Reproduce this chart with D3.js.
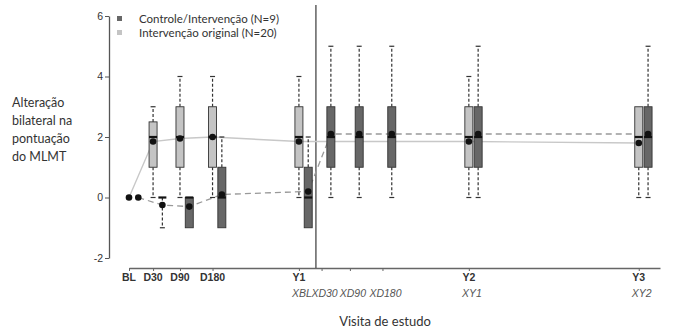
<!DOCTYPE html>
<html><head><meta charset="utf-8">
<script src="https://cdn.jsdelivr.net/npm/d3@7"></script>
<style>body{margin:0;background:#fff}</style>
</head><body>
<svg id="chart" width="690" height="335"></svg>
<script>
// Study visits and their position on the timeline (months)
const visits     = ["BL","D30","D90","D180","Y1","XD30","XD90","XD180","Y2","Y3"];
const visitMonth = [0, 1.7, 3.6, 5.9, 12, 13.6, 15.6, 17.9, 24, 36];
const tickTop    = ["BL","D30","D90","D180","Y1","","","","Y2","Y3"];
const tickBottom = ["","","","","XBL","XD30","XD90","XD180","XY1","XY2"];
const yTicks     = [-2, 0, 2, 4, 6];
const crossoverMonth = 13.2;

// Intervenção original (N=20)
const origLow  = [null, 0,   0,    0,   0,    null, null, null, 0,    0];
const origQ1   = [null, 1,   1,    1,   1,    null, null, null, 1,    1];
const origMed  = [null, 2,   2,    2,   2,    null, null, null, 2,    2];
const origQ3   = [null, 2.5, 3,    3,   3,    null, null, null, 3,    3];
const origHigh = [null, 3,   4,    4,   4,    null, null, null, 4,    3];
const origMean = [0,    1.85,1.95, 2.0, 1.85, null, null, null, 1.85, 1.8];

// Controle/Intervenção (N=9)
const ctrlLow  = [null, -1,    -1,   -1,  -1,  0,   0,   0,   0,   0];
const ctrlQ1   = [null, 0,     -1,   -1,  -1,  1,   1,   1,   1,   1];
const ctrlMed  = [null, 0,     0,    0,   0,   2,   2,   2,   2,   2];
const ctrlQ3   = [null, 0,     0,    1,   1,   3,   3,   3,   3,   3];
const ctrlHigh = [null, 0,     0,    2,   2,   5,   5,   5,   5,   5];
const ctrlMean = [0,    -0.25, -0.3, 0.1, 0.2, 2.1, 2.1, 2.1, 2.1, 2.1];

const legendLabels = ["Controle/Intervenção (N=9)", "Intervenção original (N=20)"];
const yTitleLines  = ["Alteração", "bilateral na", "pontuação", "do MLMT"];

const svg = d3.select("#chart");
const x = d3.scaleLinear().domain([0, 37.5]).range([129, 660]);
const y = d3.scaleLinear().domain([-2, 6]).range([258, 16]);
const axisFont = "'Liberation Sans', Arial, sans-serif";
const textFont = "Lato, 'Open Sans', sans-serif";
const lightFill = "#c4c4c4", darkFill = "#676767";
const boxW = 8, dodge = 9.3;

function build(low, q1, med, q3, high, mean, off) {
  return visits.map((v, i) => ({
    v, px: x(visitMonth[i]) + off,
    low: low[i], q1: q1[i], med: med[i], q3: q3[i], high: high[i], mean: mean[i]
  }));
}
const orig = build(origLow, origQ1, origMed, origQ3, origHigh, origMean, 0);
const ctrl = build(ctrlLow, ctrlQ1, ctrlMed, ctrlQ3, ctrlHigh, ctrlMean, dodge);

// Axes
const gy = svg.append("g").attr("transform", "translate(109,0)")
  .call(d3.axisLeft(y).tickValues(yTicks).tickSize(4).tickSizeOuter(0)
    .tickFormat(d => String(d)));
gy.select(".domain").attr("stroke", "#555").attr("stroke-width", 1.3);
gy.selectAll(".tick line").attr("stroke", "#555");
gy.selectAll(".tick text").attr("font-family", axisFont).attr("font-size", 10.5)
  .attr("fill", "#333").attr("x", -6);

const gx = svg.append("g").attr("transform", "translate(0,268)")
  .call(d3.axisBottom(x).tickValues(visitMonth).tickSize(3).tickSizeOuter(0).tickFormat(""));
gx.select(".domain").attr("stroke", "#666").attr("stroke-width", 1.3);
gx.selectAll(".tick line").attr("stroke", "#666");

svg.append("g").selectAll("text").data(tickTop).join("text")
  .attr("x", (d, i) => x(visitMonth[i])).attr("y", 281)
  .attr("text-anchor", "middle").attr("font-family", axisFont)
  .attr("font-weight", "bold").attr("font-size", 10.5).attr("fill", "#333")
  .text(d => d);
svg.append("g").selectAll("text").data(tickBottom).join("text")
  .attr("x", (d, i) => x(visitMonth[i]) + 3).attr("y", 297)
  .attr("text-anchor", "middle").attr("font-family", axisFont)
  .attr("font-style", "italic").attr("font-size", 10.5).attr("fill", "#555")
  .text(d => d);

// Crossover separator
svg.append("line")
  .attr("x1", x(crossoverMonth)).attr("x2", x(crossoverMonth))
  .attr("y1", 5).attr("y2", 268)
  .attr("stroke", "#555").attr("stroke-width", 1.4);

// Mean trajectories
const meanLine = d3.line().defined(d => d.mean != null).x(d => d.px).y(d => y(d.mean));
svg.append("path").datum(orig.filter(d => d.mean != null)).attr("d", meanLine)
  .attr("fill", "none").attr("stroke", "#c8c8c8").attr("stroke-width", 1.4);
svg.append("path").datum(ctrl).attr("d", meanLine)
  .attr("fill", "none").attr("stroke", "#999").attr("stroke-width", 1.3)
  .attr("stroke-dasharray", "6,4");

// Box plots
function drawBoxes(data, fill) {
  const g = svg.append("g");
  const b = data.filter(d => d.q1 != null);
  const items = g.selectAll("g").data(b).join("g");
  // whiskers
  items.filter(d => d.high > d.q3).append("line")
    .attr("x1", d => d.px).attr("x2", d => d.px)
    .attr("y1", d => y(d.q3)).attr("y2", d => y(d.high))
    .attr("stroke", "#333").attr("stroke-width", 1.2).attr("stroke-dasharray", "3,2");
  items.filter(d => d.high > d.q3).append("line")
    .attr("x1", d => d.px - 2.5).attr("x2", d => d.px + 2.5)
    .attr("y1", d => y(d.high)).attr("y2", d => y(d.high))
    .attr("stroke", "#333").attr("stroke-width", 1.2);
  items.filter(d => d.low < d.q1).append("line")
    .attr("x1", d => d.px).attr("x2", d => d.px)
    .attr("y1", d => y(d.q1)).attr("y2", d => y(d.low))
    .attr("stroke", "#333").attr("stroke-width", 1.2).attr("stroke-dasharray", "3,2");
  items.filter(d => d.low < d.q1).append("line")
    .attr("x1", d => d.px - 2.5).attr("x2", d => d.px + 2.5)
    .attr("y1", d => y(d.low)).attr("y2", d => y(d.low))
    .attr("stroke", "#333").attr("stroke-width", 1.2);
  // boxes
  items.filter(d => d.q3 > d.q1).append("rect")
    .attr("x", d => d.px - boxW / 2).attr("width", boxW)
    .attr("y", d => y(d.q3)).attr("height", d => y(d.q1) - y(d.q3))
    .attr("fill", fill).attr("stroke", "#333").attr("stroke-width", 0.9);
  // medians
  items.append("line")
    .attr("x1", d => d.px - boxW / 2).attr("x2", d => d.px + boxW / 2)
    .attr("y1", d => y(d.med)).attr("y2", d => y(d.med))
    .attr("stroke", "#111").attr("stroke-width", 2.2);
}
drawBoxes(orig, lightFill);
drawBoxes(ctrl, darkFill);

// Means
svg.append("g").selectAll("circle").data(orig.filter(d => d.mean != null).concat(ctrl))
  .join("circle")
  .attr("cx", d => d.px).attr("cy", d => y(d.mean)).attr("r", 3.3)
  .attr("fill", "#111");

// Legend
const legend = svg.append("g");
[darkFill, lightFill].forEach((c, i) => {
  legend.append("rect").attr("x", 117).attr("y", 16 + i * 14).attr("width", 5).attr("height", 5)
    .attr("fill", c);
  legend.append("text").attr("x", 139).attr("y", 23 + i * 14)
    .attr("font-family", textFont).attr("font-size", 11.5).attr("fill", "#333")
    .text(legendLabels[i]);
});

// Axis titles
svg.append("text").attr("font-family", textFont).attr("font-size", 12.5).attr("fill", "#333")
  .selectAll("tspan").data(yTitleLines).join("tspan")
  .attr("x", 12).attr("y", (d, i) => 107 + i * 18).text(d => d);
svg.append("text").attr("x", 385).attr("y", 326).attr("text-anchor", "middle")
  .attr("font-family", textFont).attr("font-size", 13).attr("fill", "#333")
  .text("Visita de estudo");
</script>
</body></html>
